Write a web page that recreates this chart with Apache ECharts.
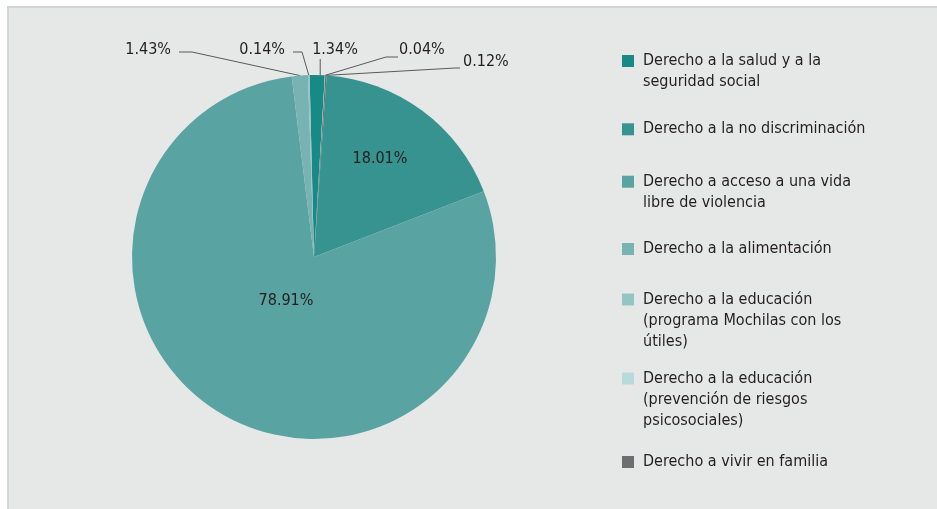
<!DOCTYPE html>
<html>
<head>
<meta charset="utf-8">
<script src="https://cdn.jsdelivr.net/npm/echarts@6/dist/echarts.min.js"></script>
<style>
  html, body { margin: 0; padding: 0; background: #ffffff; }
  .panel {
    position: absolute; left: 7px; top: 6px; width: 940px; height: 510px;
    background: #e6e7e7; border-left: 2px solid #d4d5d5; border-top: 2px solid #d4d5d5;
  }
  #chart { position: absolute; left: 0; top: 0; width: 937px; height: 509px; }
</style>
</head>
<body>
<div class="panel"></div>
<div id="chart"></div>
<script>
// categorías (orden de la leyenda)
const categories = [
  'Derecho a la salud y a la seguridad social',
  'Derecho a la no discriminación',
  'Derecho a acceso a una vida libre de violencia',
  'Derecho a la alimentación',
  'Derecho a la educación (programa Mochilas con los útiles)',
  'Derecho a la educación (prevención de riesgos psicosociales)',
  'Derecho a vivir en familia'
]
const legendLines = [
  'Derecho a la salud y a la\nseguridad social',
  'Derecho a la no discriminación',
  'Derecho a acceso a una vida\nlibre de violencia',
  'Derecho a la alimentación',
  'Derecho a la educación\n(programa Mochilas con los\nútiles)',
  'Derecho a la educación\n(prevención de riesgos\npsicosociales)',
  'Derecho a vivir en familia'
]
const percentages = [1.34, 18.01, 78.91, 1.43, 0.14, 0.04, 0.12]
// orden de las porciones en el pastel (sentido horario desde arriba)
const sliceOrder = [0, 5, 6, 1, 2, 3, 4]

const colors = ['#178a87', '#369390', '#5aa3a3', '#79b2b2', '#94c4c4', '#b8dada', '#6d6e70']
const font = '"DejaVu Sans Condensed", "Liberation Sans Narrow", sans-serif'
const textColor = '#231f20'

// centro vertical del cuadro de cada elemento de la leyenda
const legendIconY = [61, 129.3, 181.7, 249, 299.5, 378.5, 462]
const lineH = 21

const chart = echarts.init(document.getElementById('chart'))

const pieData = sliceOrder.map(i => ({
  name: categories[i],
  value: percentages[i],
  itemStyle: { color: colors[i] }
}))

// la leyenda centra el texto en el cuadro: se anteponen líneas vacías
// para que la primera línea quede a la altura del cuadro
const legends = categories.map((name, i) => {
  const n = legendLines[i].split('\n').length
  return {
    orient: 'vertical',
    left: 622,
    top: legendIconY[i] - (2 * n - 1) * lineH / 2,
    padding: 0,
    itemWidth: 12,
    itemHeight: 12,
    icon: 'rect',
    selectedMode: false,
    data: [name],
    formatter: () => '\n'.repeat(n - 1) + legendLines[i],
    textStyle: {
      fontFamily: font,
      fontSize: 16,
      lineHeight: lineH,
      color: textColor,
      padding: [0, 0, 0, 4]
    }
  }
})

// ubicación de las etiquetas al estilo de la figura original
const labelSpots = {
  0: { x: 335, y: 50, align: 'center', line: p => [[p[0] + 3, p[1]], [p[0] + 3, 62], [p[0] + 3, 59]] },
  5: { x: 399, y: 50, align: 'left', line: p => [p, [386, 57], [398, 57]] },
  6: { x: 463, y: 62, align: 'left', line: p => [p, [455, 68], [460, 68]] },
  3: { x: 171, y: 50, align: 'right', line: p => [p, [192, 52], [179, 52]] },
  4: { x: 285, y: 50, align: 'right', line: p => [p, [302, 52], [293, 52]] },
  1: { x: 380, y: 159, align: 'center' },
  2: { x: 286, y: 301, align: 'center' }
}

const option = {
  animation: false,
  color: colors,
  legend: legends,
  series: [
    {
      type: 'pie',
      center: [314, 257],
      radius: 182,
      startAngle: 91.4,
      clockwise: true,
      avoidLabelOverlap: false,
      emphasis: { disabled: true },
      itemStyle: { borderWidth: 0 },
      data: pieData,
      label: {
        show: true,
        position: 'outside',
        fontFamily: font,
        fontSize: 16,
        color: textColor,
        formatter: p => p.value.toFixed(2) + '%'
      },
      labelLine: {
        show: true,
        length: 10,
        length2: 10,
        lineStyle: { color: '#58595b', width: 1 }
      },
      labelLayout: params => {
        const idx = sliceOrder[params.dataIndex]
        const spot = labelSpots[idx]
        const out = { x: spot.x, y: spot.y, align: spot.align, verticalAlign: 'middle' }
        if (spot.line && params.labelLinePoints) {
          out.labelLinePoints = spot.line(params.labelLinePoints[0])
        }
        return out
      }
    }
  ]
}

// porciones grandes con etiqueta dentro
option.series[0].data.forEach(d => {
  const idx = categories.indexOf(d.name)
  if (idx === 1 || idx === 2) {
    d.label = { position: 'inside' }
    d.labelLine = { show: false }
  }
})

chart.setOption(option)
</script>
</body>
</html>
